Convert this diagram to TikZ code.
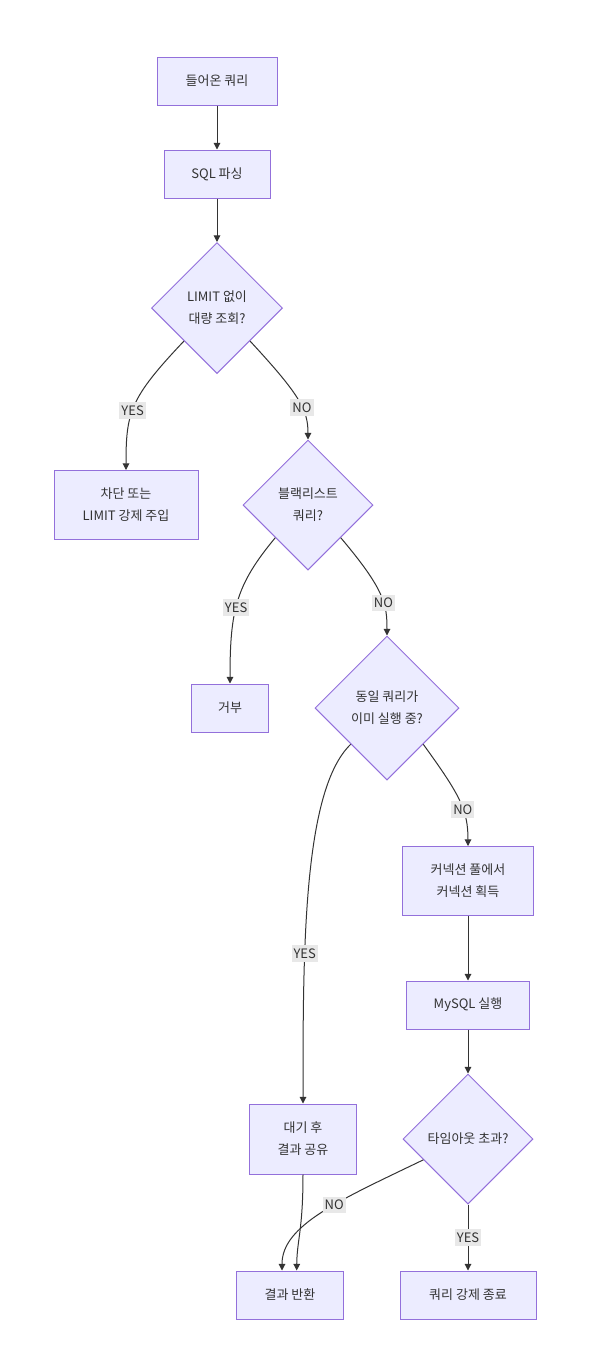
\documentclass[tikz,border=0pt]{standalone}
\usepackage{fontspec}
\setmainfont{Noto Sans CJK KR}
\usetikzlibrary{shapes.geometric,arrows.meta}
\definecolor{nodefill}{HTML}{ECECFF}
\definecolor{nodeline}{HTML}{9370DB}
\definecolor{edgeline}{HTML}{333333}
\definecolor{lblfill}{HTML}{E8E8E8}
\begin{document}
\begin{tikzpicture}[x=0.75pt,y=-0.75pt,
    every node/.style={font=\fontsize{9.75}{16.5}\selectfont,text=edgeline},
    box/.style={draw=nodeline,fill=nodefill,line width=0.75pt,minimum height=36pt,align=center},
    decision/.style={diamond,aspect=1,draw=nodeline,fill=nodefill,line width=0.75pt,inner sep=0pt,align=center},
    flow/.style={draw=edgeline,line width=0.75pt,-{Triangle[length=5pt,width=5pt]}},
    lbl/.style={fill=lblfill,inner xsep=1.5pt,inner ysep=2.5pt}]
    \useasboundingbox (0,0) rectangle (590,1368);
    \node[box,minimum width=90pt] (query) at (217,81) {들어온 쿼리};
    \node[box,minimum width=79.5pt] (parse) at (217,174) {SQL 파싱};
    \node[decision,minimum size=98.25pt] (nolimit) at (217,308) {LIMIT 없이\\대량 조회?};
    \node[box,minimum width=108pt,minimum height=51.75pt] (block) at (126,505) {차단 또는\\LIMIT 강제 주입};
    \node[decision,minimum size=97.5pt] (black) at (308,505) {블랙리스트\\쿼리?};
    \node[box,minimum width=57.75pt] (reject) at (230,708) {거부};
    \node[decision,minimum size=108pt] (dup) at (387,708) {동일 쿼리가\\이미 실행 중?};
    \node[box,minimum width=98.25pt,minimum height=51.75pt] (conn) at (468,881) {커넥션 풀에서\\커넥션 획득};
    \node[box,minimum width=92.25pt] (run) at (468,1005) {MySQL 실행};
    \node[decision,minimum size=97.5pt] (timeout) at (468,1139) {타임아웃 초과?};
    \node[box,minimum width=80.25pt,minimum height=52.5pt] (wait) at (303,1139) {대기 후\\결과 공유};
    \node[box,minimum width=80.25pt] (result) at (290,1295) {결과 반환};
    \node[box,minimum width=102pt] (kill) at (468,1295) {쿼리 강제 종료};

    \draw[flow] (query) -- (parse);
    \draw[flow] (parse) -- (nolimit);
    \draw[flow] (nolimit.south west) .. controls (130,398) and (126,412) .. (block.north) node[lbl,pos=0.55] (yes1) {YES};
    \draw[flow] (nolimit.south east) .. controls (300,395) and (308,410) .. (black.north) node[lbl,pos=0.6] (no1) {NO};
    \draw[flow] (black.south west) .. controls (236,585) and (230,610) .. (reject.north) node[lbl,pos=0.55] (yes2) {YES};
    \draw[flow] (black.south east) .. controls (385,590) and (387,605) .. (dup.north) node[lbl,pos=0.6] (no2) {NO};
    \draw[flow] (dup.south west) .. controls (303,790) and (303,950) .. (wait.north) node[lbl,pos=0.67] (yes3) {YES};
    \draw[flow] (dup.south east) .. controls (460,795) and (468,810) .. (conn.north) node[lbl,pos=0.6] (no3) {NO};
    \draw[flow] (conn) -- (run);
    \draw[flow] (run) -- (timeout);
    \draw[flow] (wait.south) .. controls (303,1230) and (297,1240) .. ([xshift=5pt]result.north);
    \draw[flow] (timeout.205) .. controls (340,1200) and (282,1225) .. ([xshift=-6pt]result.north) node[lbl,pos=0.42] (no4) {NO};
    \draw[flow] (timeout) -- (kill) node[lbl,midway] (yes4) {YES};
\end{tikzpicture}
\end{document}
